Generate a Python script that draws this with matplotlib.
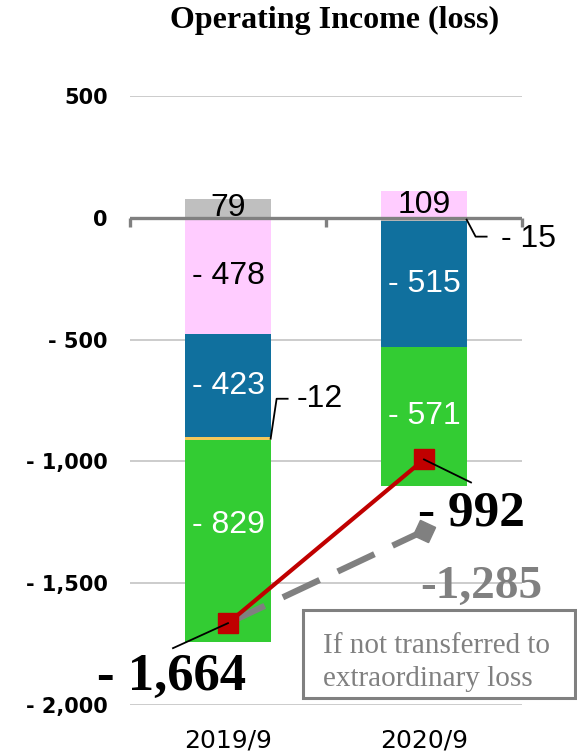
import matplotlib
matplotlib.use("Agg")
import matplotlib.pyplot as plt
import matplotlib.transforms as mtransforms
from matplotlib.patches import Rectangle
import numpy as np

# ---------------- data ----------------
categories = ['2019/9', '2020/9']
seg_gray = [79, -15]
seg_pink = [-478, 109]
seg_blue = [-423, -515]
seg_yellow = [-12, 0]
seg_green = [-829, -571]
totals = [-1664, -992]
alt_totals = [-1664, -1285]
ytick_vals = [500, 0, -500, -1000, -1500, -2000]
ytick_labels = ['500', '0', '- 500', '- 1,000', '- 1,500', '- 2,000']

series = [
    (seg_gray, '#BFBFBF', 'black'),
    (seg_pink, '#FFCCFF', 'black'),
    (seg_blue, '#10709E', 'white'),
    (seg_yellow, '#F5C85A', 'black'),
    (seg_green, '#33CC33', 'white'),
]

W, H = 577, 756
fig = plt.figure(figsize=(W / 100, H / 100), dpi=100)
ax = fig.add_axes([130 / W, (H - 705) / H, (522 - 130) / W, (705 - 96) / H])
ax.set_xlim(-0.5, 1.5)
ax.set_ylim(-2000, 500)

x = np.arange(len(categories))
bw = 0.435

pos_bottom = np.zeros(len(categories))
neg_bottom = np.zeros(len(categories))
seg_geom = []  # (series index, cat index, bottom, value)
for si, (vals, col, tcol) in enumerate(series):
    vals = np.array(vals, dtype=float)
    bottoms = np.where(vals >= 0, pos_bottom, neg_bottom)
    ax.bar(x, vals, bw, bottom=bottoms, color=col, zorder=2, linewidth=0)
    for ci in range(len(categories)):
        seg_geom.append((si, ci, bottoms[ci], vals[ci]))
    pos_bottom = pos_bottom + np.where(vals >= 0, vals, 0)
    neg_bottom = neg_bottom + np.where(vals < 0, vals, 0)

# in-bar labels
lab_font = dict(family='Liberation Sans', fontsize=23)
for si, ci, b, v in seg_geom:
    if v == 0:
        continue
    if si == 3 or (si == 0 and v < 0):
        continue  # labelled with leaders
    txt = f"{v:,.0f}" if v > 0 else f"- {abs(v):,.0f}"
    yoff = 16 if (si == 4 and ci == 0) else 0
    ax.annotate(txt, xy=(x[ci], b + v / 2), xytext=(0, yoff), textcoords='offset pixels',
                ha='center', va='center', color=series[si][2], zorder=5, **lab_font)

# grid lines
for yv in ytick_vals:
    if yv != 0:
        ax.axhline(yv, color='#C8C8C8', lw=1.3, zorder=1)
# zero line with stubs
ax.axhline(0, color='#808080', lw=2.4, zorder=4)


def offset_tr(xd, yd):
    return mtransforms.Affine2D() + mtransforms.ScaledTranslation(xd, yd, ax.transData)


for xs in [-0.5, 0.5, 1.5]:
    ax.plot([0, 0], [0, -9], color='#808080', lw=2.4, transform=offset_tr(xs, 0),
            zorder=4, solid_capstyle='butt', clip_on=False)

# leader labels for small segments
# yellow -12 (2019)
b12 = [g for g in seg_geom if g[0] == 3 and g[1] == 0][0]
px, py = x[0] + bw / 2, b12[2] + b12[3] / 2
ax.plot([0, 6, 17], [0, 40, 40], color='black', lw=1.3, transform=offset_tr(px, py),
        zorder=6, clip_on=False)
ax.annotate(f"-{abs(seg_yellow[0])}", xy=(px, py), xytext=(26, 40),
            textcoords='offset pixels', ha='left', va='center', **lab_font)
# gray -15 (2020)
b15 = [g for g in seg_geom if g[0] == 0 and g[1] == 1][0]
px, py = x[1] + bw / 2, b15[2] + b15[3] / 2
ax.plot([0, 9, 20], [0, -17, -17], color='black', lw=1.3, transform=offset_tr(px, py),
        zorder=6, clip_on=False)
ax.annotate(f"- {abs(seg_gray[1])}", xy=(px, py), xytext=(34, -19),
            textcoords='offset pixels', ha='left', va='center', **lab_font)

# lines
ax.plot(x, alt_totals, color='#808080', lw=4.5, ls=(0, (6.5, 3.2)), zorder=7,
        marker=(4, 0, 20), markersize=17, markevery=[1], clip_on=False)
ax.plot(x, totals, color='#C00000', lw=3, marker='s', markersize=15, zorder=8,
        clip_on=False)

# total labels
big = dict(family='Liberation Serif', fontweight='bold')
ax.plot([0, -55], [0, -25], color='black', lw=1.3, transform=offset_tr(x[0], totals[0]),
        zorder=9, clip_on=False)
ax.plot([0, 47], [0, -23], color='black', lw=1.3, transform=offset_tr(x[1], totals[1]),
        zorder=9, clip_on=False)
ax.annotate(f"- {abs(totals[0]):,}", xy=(x[0], totals[0]), xytext=(-131, -67),
            textcoords='offset pixels', ha='left', va='baseline', fontsize=38,
            annotation_clip=False, **big)
ax.annotate(f"- {abs(totals[1]):,}", xy=(x[1], totals[1]), xytext=(-6, -66),
            textcoords='offset pixels', ha='left', va='baseline', fontsize=37,
            annotation_clip=False, **big)
ax.annotate(f"-{abs(alt_totals[1]):,}", xy=(x[1], alt_totals[1]), xytext=(-4, -67),
            textcoords='offset pixels', ha='left', va='baseline', fontsize=34,
            color='#808080', annotation_clip=False, **big)

# axes styling
for s in ax.spines.values():
    s.set_visible(False)
ax.set_yticks(ytick_vals)
ax.set_yticklabels(ytick_labels, family='DejaVu Sans', fontweight='bold', fontsize=15)
ax.set_xticks(x)
ax.set_xticklabels(categories, family='DejaVu Sans', fontsize=18)
ax.tick_params(axis='y', length=0, pad=16)
ax.tick_params(axis='x', length=0, pad=17)

# title
fig.text(335 / W, 1 - 28 / H, 'Operating Income (loss)', ha='center', va='baseline',
         family='Liberation Serif', fontweight='bold', fontsize=23)

# note box
fig.patches.append(Rectangle((303 / W, 1 - 698 / H), 272 / W, 88 / H,
                             transform=fig.transFigure, fill=False,
                             edgecolor='#808080', lw=2.2, zorder=10))
fig.text(323 / W, 1 - 653 / H, 'If not transferred to', ha='left', va='baseline',
         family='Liberation Serif', fontsize=21, color='#808080')
fig.text(323 / W, 1 - 686 / H, 'extraordinary loss', ha='left', va='baseline',
         family='Liberation Serif', fontsize=21, color='#808080')

fig.savefig('out.png', dpi=100)
